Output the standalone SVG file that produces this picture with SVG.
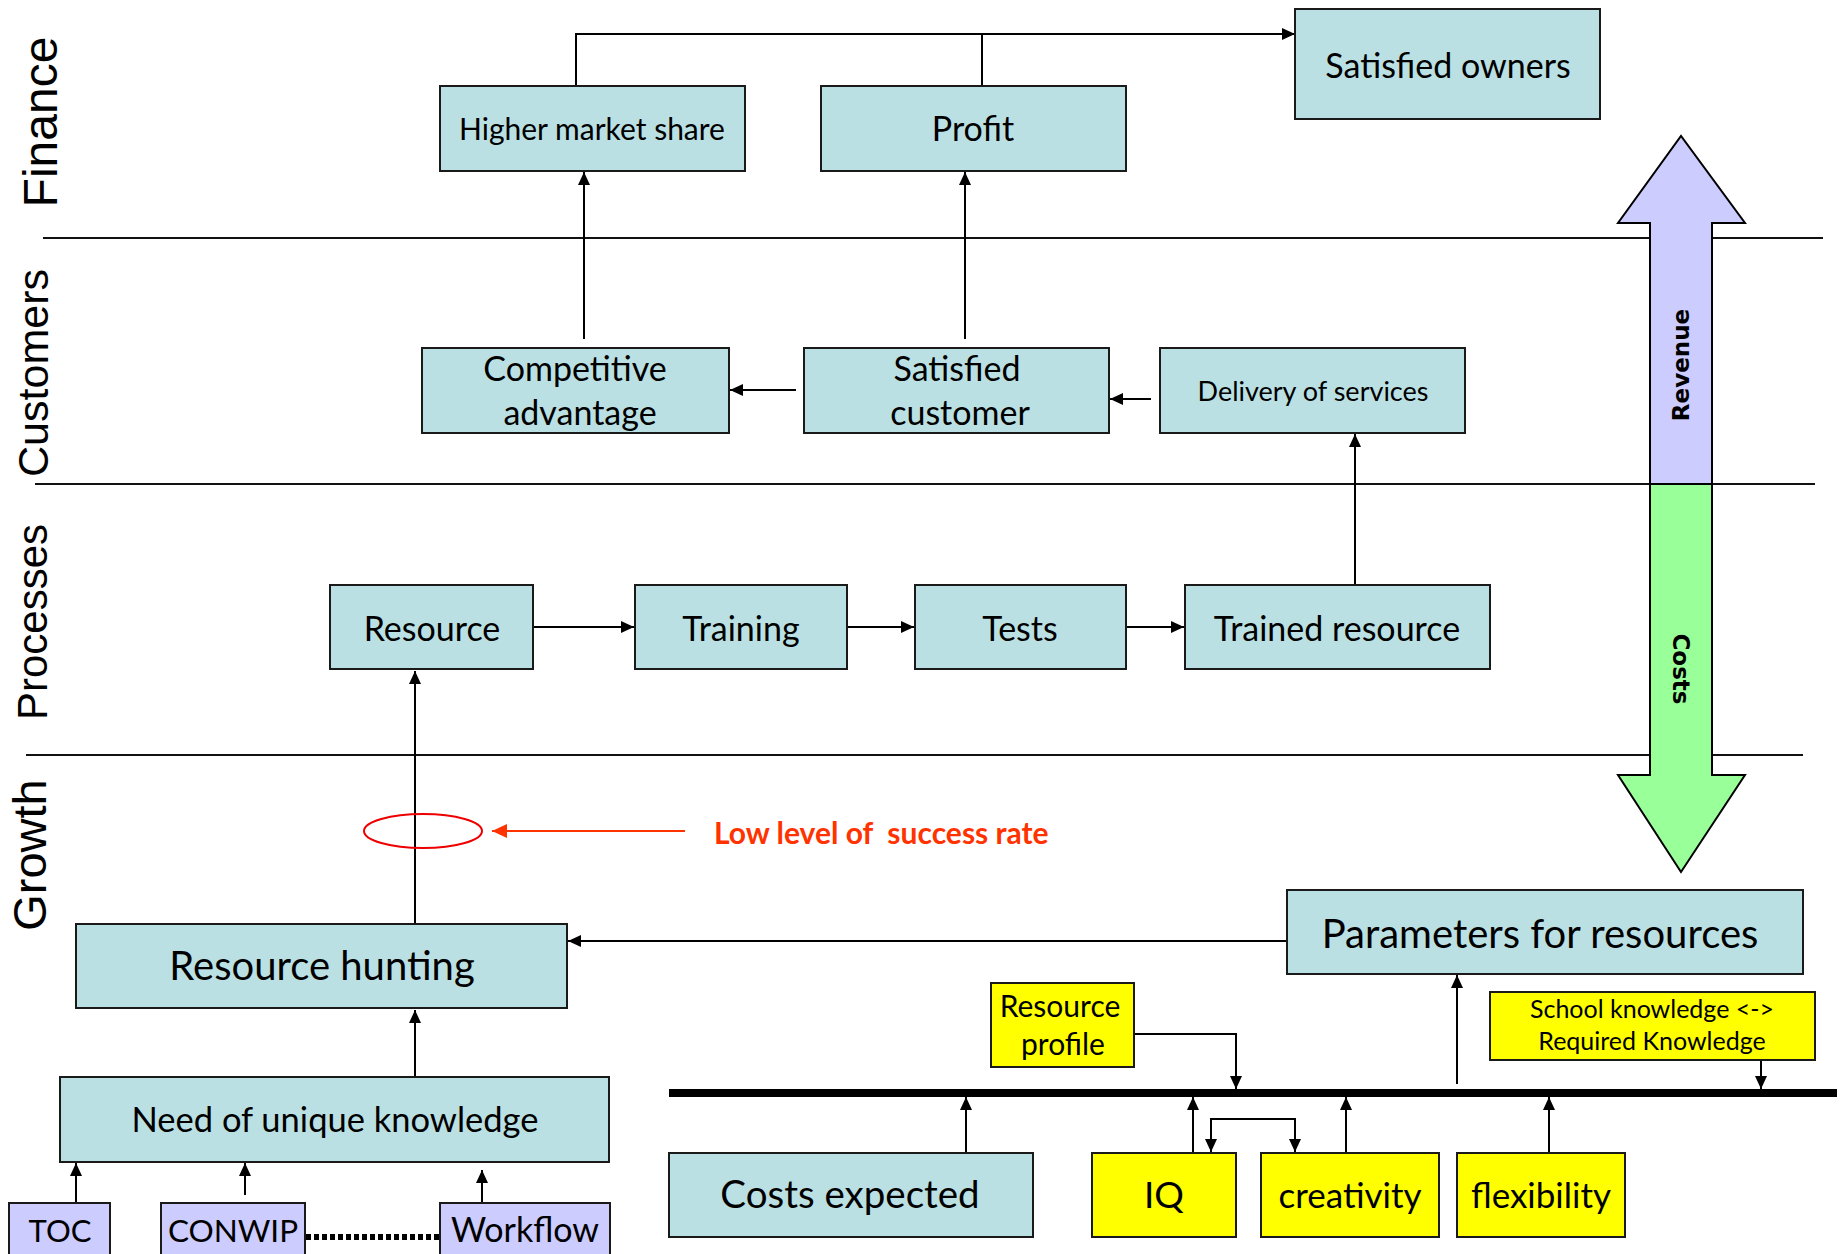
<svg xmlns="http://www.w3.org/2000/svg" width="1841" height="1254" viewBox="0 0 1841 1254">
<defs>
<marker id="ah" markerUnits="userSpaceOnUse" markerWidth="14" markerHeight="12" refX="13" refY="6" orient="auto"><path d="M0,0 L13,6 L0,12 z" fill="#000"/></marker>
<marker id="ahs" markerUnits="userSpaceOnUse" markerWidth="14" markerHeight="12" refX="13" refY="6" orient="auto-start-reverse"><path d="M0,0 L13,6 L0,12 z" fill="#000"/></marker>
<marker id="ahr" markerUnits="userSpaceOnUse" markerWidth="16" markerHeight="14" refX="15" refY="7" orient="auto"><path d="M0,0 L15,7 L0,14 z" fill="#FF3300"/></marker>
<style>
.box{fill:#BAE0E3;stroke:#1a1a1a;stroke-width:2}
.yel{fill:#FFFF00;stroke:#1a1a1a;stroke-width:2}
.pur{fill:#CCCCFF;stroke:#1a1a1a;stroke-width:2}
.t{font-family:Lato,"Open Sans",sans-serif;fill:#000;text-anchor:middle}
.lbl{font-family:"Liberation Sans",Arial,sans-serif;fill:#000;text-anchor:middle}
.c{fill:none;stroke:#000;stroke-width:2}
.ca{fill:none;stroke:#000;stroke-width:2;marker-end:url(#ah)}
.div{stroke:#111;stroke-width:2}
</style>
</defs>
<rect width="1841" height="1254" fill="#fff"/>
<g id="lanes">
<line class="div" x1="43" y1="238" x2="1823" y2="238"/>
<line class="div" x1="35" y1="484" x2="1815" y2="484"/>
<line class="div" x1="26" y1="755" x2="1803" y2="755"/>
<text class="lbl" transform="translate(57,122) rotate(-90)" font-size="48">Finance</text>
<text class="lbl" transform="translate(48,373) rotate(-90)" font-size="43">Customers</text>
<text class="lbl" transform="translate(47,622) rotate(-90)" font-size="42">Processes</text>
<text class="lbl" transform="translate(46,855) rotate(-90)" font-size="47">Growth</text>
</g>
<g id="revenue-costs">
<path d="M1650,484 L1650,223 L1618,223 L1681,136 L1745,223 L1712,223 L1712,484 Z" fill="#CCCCFF" stroke="#000" stroke-width="2"/>
<path d="M1650,484 L1650,775 L1618,775 L1681,872 L1745,775 L1712,775 L1712,484 Z" fill="#99FF99" stroke="#000" stroke-width="2"/>
<text transform="translate(1689,365) rotate(-90)" style="font-family:'DejaVu Sans',Verdana,sans-serif;font-weight:bold;font-size:23px;text-anchor:middle">Revenue</text>
<text transform="translate(1673,669) rotate(90)" style="font-family:'DejaVu Sans',Verdana,sans-serif;font-weight:bold;font-size:23px;text-anchor:middle">Costs</text>
</g>
<g id="connectors">
<polyline class="c" points="576,86 576,34 1295,34" style="marker-end:url(#ah)"/>
<line class="c" x1="982" y1="86" x2="982" y2="34"/>
<line class="ca" x1="584" y1="339" x2="584" y2="172"/>
<line class="ca" x1="965" y1="339" x2="965" y2="172"/>
<line class="ca" x1="796" y1="390" x2="730" y2="390"/>
<line class="ca" x1="1151" y1="399" x2="1110" y2="399"/>
<line class="ca" x1="1355" y1="585" x2="1355" y2="434"/>
<line class="ca" x1="533" y1="627" x2="634" y2="627"/>
<line class="ca" x1="847" y1="627" x2="914" y2="627"/>
<line class="ca" x1="1126" y1="627" x2="1184" y2="627"/>
<line class="ca" x1="415" y1="924" x2="415" y2="671"/>
<line class="ca" x1="415" y1="1076" x2="415" y2="1010"/>
<line class="ca" x1="1287" y1="941" x2="568" y2="941"/>
<line class="ca" x1="76" y1="1203" x2="76" y2="1163"/>
<line class="ca" x1="245" y1="1195" x2="245" y2="1163"/>
<line class="ca" x1="482" y1="1203" x2="482" y2="1170"/>
<line x1="306" y1="1237" x2="440" y2="1237" stroke="#000" stroke-width="6" stroke-dasharray="5,3"/>
<ellipse cx="423" cy="831" rx="59" ry="17" fill="none" stroke="#EE0000" stroke-width="2"/>
<line x1="685" y1="831" x2="492" y2="831" stroke="#FF3300" stroke-width="2" marker-end="url(#ahr)"/>
<line x1="669" y1="1093" x2="1837" y2="1093" stroke="#000" stroke-width="8"/>
<polyline class="ca" points="1134,1034 1236,1034 1236,1089"/>
<line class="ca" x1="1761" y1="1060" x2="1761" y2="1089"/>
<line class="ca" x1="1457" y1="1084" x2="1457" y2="975"/>
<line class="ca" x1="966" y1="1152" x2="966" y2="1097"/>
<line class="ca" x1="1193" y1="1152" x2="1193" y2="1097"/>
<line class="ca" x1="1346" y1="1152" x2="1346" y2="1097"/>
<line class="ca" x1="1549" y1="1152" x2="1549" y2="1097"/>
<polyline class="c" points="1211,1152 1211,1119 1295,1119 1295,1152" style="marker-start:url(#ahs);marker-end:url(#ah)"/>
</g>
<g id="n-higher-market-share"><rect class="box" x="440" y="86" width="305" height="85"/><text class="t" x="592" y="140" font-size="30">Higher market share</text></g>
<g id="n-profit"><rect class="box" x="821" y="86" width="305" height="85"/><text class="t" x="973" y="141" font-size="34">Profit</text></g>
<g id="n-satisfied-owners"><rect class="box" x="1295" y="9" width="305" height="110"/><text class="t" x="1448" y="78" font-size="34">Satisfied owners</text></g>
<g id="n-competitive-advantage"><rect class="box" x="422" y="348" width="307" height="85"/><text class="t" x="575" y="381" font-size="34">Competitive</text><text class="t" x="580" y="425" font-size="34">advantage</text></g>
<g id="n-satisfied-customer"><rect class="box" x="804" y="348" width="305" height="85"/><text class="t" x="957" y="381" font-size="34">Satisfied</text><text class="t" x="960" y="425" font-size="34">customer</text></g>
<g id="n-delivery"><rect class="box" x="1160" y="348" width="305" height="85"/><text class="t" x="1313" y="401" font-size="27">Delivery of services</text></g>
<g id="n-resource"><rect class="box" x="330" y="585" width="203" height="84"/><text class="t" x="432" y="641" font-size="34">Resource</text></g>
<g id="n-training"><rect class="box" x="635" y="585" width="212" height="84"/><text class="t" x="741" y="641" font-size="34">Training</text></g>
<g id="n-tests"><rect class="box" x="915" y="585" width="211" height="84"/><text class="t" x="1020" y="641" font-size="34">Tests</text></g>
<g id="n-trained-resource"><rect class="box" x="1185" y="585" width="305" height="84"/><text class="t" x="1337" y="641" font-size="34">Trained resource</text></g>
<g id="n-resource-hunting"><rect class="box" x="76" y="924" width="491" height="84"/><text class="t" x="322" y="980" font-size="40">Resource hunting</text></g>
<g id="n-parameters"><rect class="box" x="1287" y="890" width="516" height="84"/><text class="t" x="1540" y="948" font-size="40">Parameters for resources</text></g>
<g id="n-need"><rect class="box" x="60" y="1077" width="549" height="85"/><text class="t" x="335" y="1132" font-size="34.5">Need of unique knowledge</text></g>
<g id="n-toc"><rect class="pur" x="9" y="1203" width="101" height="60"/><text class="t" x="60" y="1242" font-size="31">TOC</text></g>
<g id="n-conwip"><rect class="pur" x="161" y="1203" width="144" height="60"/><text class="t" x="233" y="1242" font-size="31.5">CONWIP</text></g>
<g id="n-workflow"><rect class="pur" x="440" y="1203" width="170" height="60"/><text class="t" x="525" y="1242" font-size="34">Workflow</text></g>
<g id="n-low-level"><text x="714" y="844" xml:space="preserve" style="font-family:Lato,sans-serif;font-weight:bold;font-size:30px;fill:#FF3300;white-space:pre">Low level of  success rate</text></g>
<g id="n-resource-profile"><rect class="yel" x="991" y="983" width="143" height="84"/><text class="t" x="1060" y="1017" font-size="30">Resource</text><text class="t" x="1063" y="1055" font-size="30">profile</text></g>
<g id="n-school"><rect class="yel" x="1490" y="992" width="325" height="68"/><text class="t" x="1652" y="1018" font-size="25">School knowledge &lt;-&gt;</text><text class="t" x="1652" y="1050" font-size="25">Required Knowledge</text></g>
<g id="n-costs-expected"><rect class="box" x="669" y="1153" width="364" height="84"/><text class="t" x="850" y="1208" font-size="38.5">Costs expected</text></g>
<g id="n-iq"><rect class="yel" x="1092" y="1153" width="144" height="84"/><text class="t" x="1164" y="1208" font-size="37">IQ</text></g>
<g id="n-creativity"><rect class="yel" x="1261" y="1153" width="178" height="84"/><text class="t" x="1350" y="1208" font-size="35">creativity</text></g>
<g id="n-flexibility"><rect class="yel" x="1457" y="1153" width="168" height="84"/><text class="t" x="1541" y="1208" font-size="35">flexibility</text></g>
</svg>
